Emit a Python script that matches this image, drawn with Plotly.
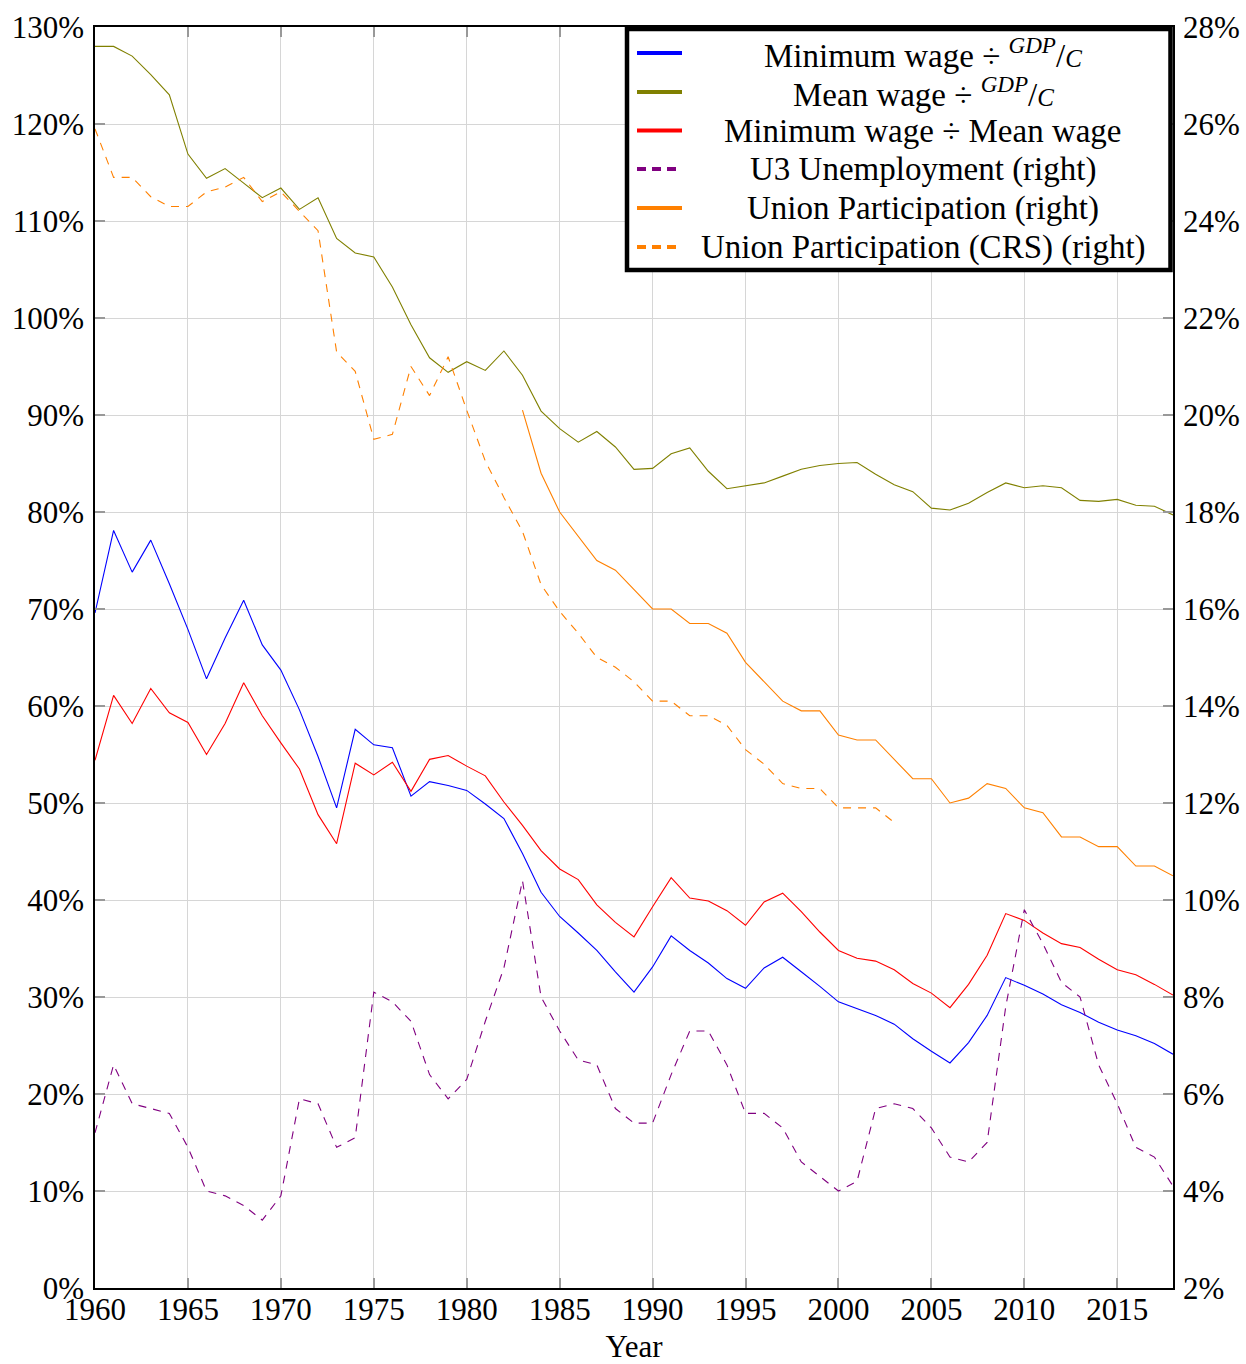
import plotly.graph_objects as go

# ---------------- data ----------------
years = list(range(1960, 2019))

min_wage_gdp = [69.6, 78.1, 73.8, 77.1, 72.6, 67.9, 62.8, 67.0, 70.9, 66.3,
                63.7, 59.6, 54.8, 49.5, 57.6, 56.0, 55.7, 50.7, 52.2, 51.8,
                51.3, 49.9, 48.4, 44.8, 40.8, 38.3, 36.6, 34.8, 32.6, 30.5,
                33.1, 36.3, 34.8, 33.5, 31.9, 30.9, 33.0, 34.1, 32.6, 31.1,
                29.5, 28.8, 28.1, 27.2, 25.7, 24.4, 23.2, 25.3, 28.1, 32.0,
                31.2, 30.3, 29.2, 28.4, 27.4, 26.6, 26.0, 25.2, 24.1]

mean_wage_gdp = [128.0, 128.0, 127.0, 125.1, 123.0, 116.9, 114.4, 115.4, 113.9, 112.4,
                 113.4, 111.2, 112.4, 108.2, 106.7, 106.3, 103.2, 99.3, 95.9, 94.4,
                 95.5, 94.6, 96.6, 94.1, 90.4, 88.6, 87.2, 88.3, 86.7, 84.4,
                 84.5, 86.0, 86.6, 84.2, 82.4, 82.7, 83.0, 83.7, 84.4, 84.8,
                 85.0, 85.1, 83.9, 82.8, 82.1, 80.4, 80.2, 80.9, 82.0, 83.0,
                 82.5, 82.7, 82.5, 81.2, 81.1, 81.3, 80.7, 80.6, 79.7]

min_mean = [54.4, 61.1, 58.2, 61.8, 59.3, 58.3, 55.0, 58.2, 62.4, 59.0,
            56.2, 53.5, 48.8, 45.8, 54.1, 52.9, 54.2, 51.2, 54.5, 54.9,
            53.8, 52.8, 50.1, 47.7, 45.1, 43.2, 42.1, 39.5, 37.7, 36.2,
            39.3, 42.3, 40.2, 39.9, 38.9, 37.4, 39.8, 40.7, 38.8, 36.7,
            34.8, 34.0, 33.7, 32.8, 31.4, 30.4, 28.9, 31.3, 34.3, 38.6,
            37.9, 36.6, 35.5, 35.1, 33.9, 32.8, 32.3, 31.3, 30.2]

u3 = [5.2, 6.6, 5.8, 5.7, 5.6, 4.9, 4.0, 3.9, 3.7, 3.4,
      3.9, 5.9, 5.8, 4.9, 5.1, 8.1, 7.9, 7.5, 6.4, 5.9,
      6.3, 7.5, 8.6, 10.4, 8.0, 7.3, 6.7, 6.6, 5.7, 5.4,
      5.4, 6.4, 7.3, 7.3, 6.6, 5.6, 5.6, 5.3, 4.6, 4.3,
      4.0, 4.2, 5.7, 5.8, 5.7, 5.3, 4.7, 4.6, 5.0, 7.8,
      9.8, 9.1, 8.3, 8.0, 6.6, 5.8, 4.9, 4.7, 4.1]

union_years = list(range(1983, 2019))
union = [20.1, 18.8, 18.0, 17.5, 17.0, 16.8, 16.4, 16.0, 16.0, 15.7,
         15.7, 15.5, 14.9, 14.5, 14.1, 13.9, 13.9, 13.4, 13.3, 13.3,
         12.9, 12.5, 12.5, 12.0, 12.1, 12.4, 12.3, 11.9, 11.8, 11.3,
         11.3, 11.1, 11.1, 10.7, 10.7, 10.5]

crs_years = list(range(1960, 2004))
union_crs = [25.9, 24.9, 24.9, 24.5, 24.3, 24.3, 24.6, 24.7, 24.9, 24.4,
             24.6, 24.2, 23.8, 21.3, 20.9, 19.5, 19.6, 21.0, 20.4, 21.2,
             20.1, 19.05, 18.3, 17.6, 16.5, 15.95, 15.5, 15.0, 14.8, 14.5,
             14.1, 14.1, 13.8, 13.8, 13.6, 13.1, 12.8, 12.4, 12.3, 12.3,
             11.9, 11.9, 11.9, 11.6]

GDPC = ("<sup><i>GDP</i></sup>/"
        "<span style='font-size:25px'><i>C</i></span>")
legend_labels = [
    "Minimum wage ÷ " + GDPC,
    "Mean wage ÷ " + GDPC,
    "Minimum wage ÷ Mean wage",
    "U3 Unemployment (right)",
    "Union Participation (right)",
    "Union Participation (CRS) (right)",
]

left_ticks = list(range(0, 140, 10))
right_ticks = list(range(2, 30, 2))
x_ticks = list(range(1960, 2020, 5))

# ---------------- styling ----------------
BLUE = "#0000ff"
OLIVE = "#808000"
RED = "#ff0000"
PURPLE = "#800080"
ORANGE = "#ff8000"
FONT = "Liberation Serif"
DASH = "8px,7px"

W, H = 1246, 1364
ML, MR, MT, MB = 95, 73, 27, 76
PW = W - ML - MR
PH = H - MT - MB


def fx(px):
    return (px - ML) / PW


def fy(py):
    return (H - MB - py) / PH


fig = go.Figure()

series = [
    (years, min_wage_gdp, BLUE, "solid", "y"),
    (years, mean_wage_gdp, OLIVE, "solid", "y"),
    (years, min_mean, RED, "solid", "y"),
    (years, u3, PURPLE, DASH, "y2"),
    (union_years, union, ORANGE, "solid", "y2"),
    (crs_years, union_crs, ORANGE, DASH, "y2"),
]
for (xs, ys, col, dash, ax), name in zip(series, legend_labels):
    fig.add_trace(go.Scatter(x=xs, y=ys, mode="lines", name=name, yaxis=ax,
                             line=dict(color=col, width=1.1, dash=dash),
                             showlegend=False))

# ---------------- manual legend (centered text like pgfplots) ----------------
shapes = [dict(type="rect", xref="paper", yref="paper",
               x0=fx(627), x1=fx(1170.5), y0=fy(270), y1=fy(29),
               line=dict(color="black", width=4.5), fillcolor="white",
               layer="above")]
annotations = []
row_y = [53, 92, 130.5, 169, 208, 247]
styles = [(BLUE, "solid"), (OLIVE, "solid"), (RED, "solid"),
          (PURPLE, "9px,6px"), (ORANGE, "solid"), (ORANGE, "9px,6px")]
for ry, (col, dash), lab in zip(row_y, styles, legend_labels):
    shapes.append(dict(type="line", xref="paper", yref="paper",
                       x0=fx(637), x1=fx(682), y0=fy(ry), y1=fy(ry),
                       line=dict(color=col, width=4, dash=dash), layer="above"))
    annotations.append(dict(xref="paper", yref="paper", x=fx(923), y=fy(ry),
                            xanchor="center", yanchor="middle", text=lab,
                            showarrow=False,
                            font=dict(family=FONT, size=33, color="black")))

axis_common = dict(ticks="inside", ticklen=10, tickcolor="#999999", tickwidth=1.5,
                   showline=True, linecolor="black", linewidth=1.5,
                   zeroline=False, automargin=False,
                   tickfont=dict(family=FONT, size=31, color="black"))

fig.update_layout(
    width=W, height=H,
    margin=dict(l=ML, r=MR, t=MT, b=MB, pad=0, autoexpand=False),
    paper_bgcolor="white", plot_bgcolor="white",
    showlegend=False,
    font=dict(family=FONT, size=31, color="black"),
    shapes=shapes, annotations=annotations,
    xaxis=dict(range=[1960, 2018], tickvals=x_ticks, showgrid=True,
               gridcolor="#d6d6d6", gridwidth=1.3, mirror="ticks",
               ticklabelstandoff=-7,
               title=dict(text="Year", font=dict(family=FONT, size=31),
                          standoff=12),
               **axis_common),
    yaxis=dict(range=[0, 130], tickvals=left_ticks,
               ticktext=[f"{v}%" for v in left_ticks],
               showgrid=True, gridcolor="#d6d6d6", gridwidth=1.3,
               ticklabelstandoff=3, **axis_common),
    yaxis2=dict(range=[2, 28], tickvals=right_ticks,
                ticktext=[f"{v}%" for v in right_ticks],
                overlaying="y", side="right", showgrid=False,
                ticklabelstandoff=2, **axis_common),
)

fig.write_html("out.html", config={"displayModeBar": False},
               post_script="document.body.style.margin='0';"
                           "document.documentElement.style.overflow='hidden';")
